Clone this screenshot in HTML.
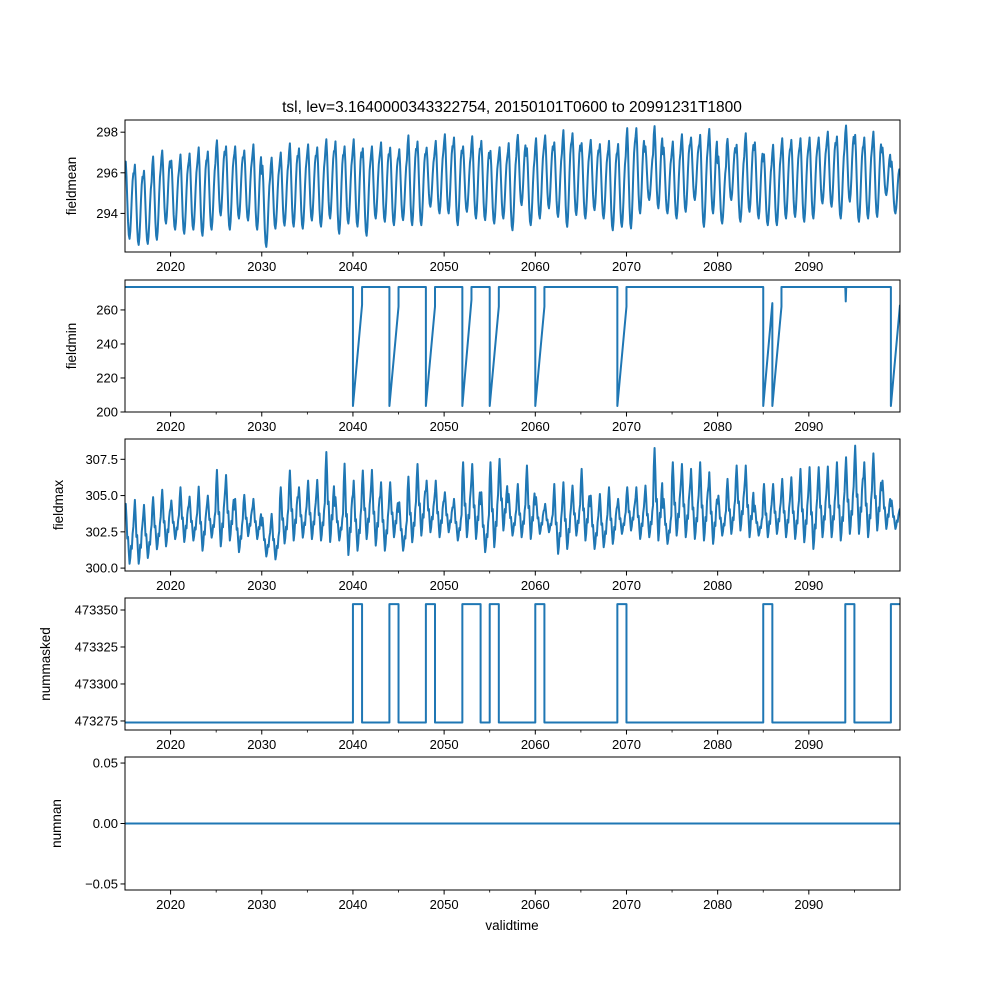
<!DOCTYPE html>
<html><head><meta charset="utf-8"><style>
body{margin:0;background:#fff;}
svg{display:block;font-family:"Liberation Sans","DejaVu Sans",sans-serif;}
</style></head><body>
<svg id="fig" width="1000" height="1000" viewBox="0 0 1000 1000">
<rect width="1000" height="1000" fill="#fff"/>
<text x="512" y="112" font-size="15.5" text-anchor="middle">tsl, lev=3.1640000343322754, 20150101T0600 to 20991231T1800</text>
<text x="512" y="930" font-size="13.5" text-anchor="middle">validtime</text>
</svg>
<script>
const years = [];
for (let y = 2015; y <= 2099; y++) years.push(y);
const meanSeason = [0.9,1.0,0.8,0.5,0.22,0.05,0.0,0.1,0.3,0.55,0.75,0.85];
const meanPeaks = [296.55,296.4,296.1,296.8,297.1,296.6,296.9,296.95,297.25,297.05,297.6,297.3,297.3,297.1,297.4,296.35,296.75,297.0,297.45,297.2,297.4,297.25,297.65,297.55,297.3,297.65,297.2,
297.3,297.5,297.24,297.16,297.84,297.54,297.24,297.57,297.9,297.74,297.3,297.8,297.57,297.08,297.26,297.46,297.87,297.21,297.7,297.84,297.5,298.1,297.95,297.46,297.62,297.41,297.57,297.42,298.2,
298.2,297.3,298.3,297.24,297.54,297.9,297.74,297.87,298.16,296.8,297.67,297.38,297.95,297.5,296.91,297.38,297.7,297.62,297.7,297.74,297.74,298.03,297.79,298.33,297.87,297.74,298.03,297.24,296.55];
const meanTroughs = [292.75,292.45,292.5,292.7,293.5,293.2,293.0,293.2,292.9,293.2,293.9,293.2,293.75,293.65,293.2,292.35,293.25,293.4,293.35,293.25,293.65,293.35,293.75,293.0,293.5,293.35,292.9,
293.75,293.59,293.42,293.67,293.42,293.42,294.33,294.0,294.0,293.42,294.08,293.75,293.67,293.5,293.75,293.17,294.41,293.42,293.75,294.25,293.83,293.34,293.92,293.75,294.16,293.75,293.17,293.34,293.26,
294.0,294.66,294.25,294.0,293.75,294.08,294.66,293.34,294.0,293.5,294.66,293.59,294.08,293.75,293.42,293.42,293.75,293.83,293.59,293.75,294.49,294.33,293.75,294.58,293.59,293.75,293.83,294.9,294.0];
const maxSeason = [0.8,1.0,0.75,0.42,0.45,0.2,0.0,0.1,0.3,0.25,0.5,0.62];
const maxPeaks = [304.43,304.7,304.36,304.89,305.4,304.66,305.57,304.93,305.62,305.0,306.77,306.42,304.77,305.05,304.77,303.47,303.74,305.57,306.73,305.57,306.03,306.08,308.0,304.89,307.2,306.03,306.73,
306.77,305.92,305.92,304.54,306.31,307.18,306.03,306.03,305.23,304.77,307.3,307.18,305.23,307.3,307.53,305.11,305.8,307.07,304.89,304.43,305.8,305.92,305.69,306.84,305.0,305.11,305.57,304.77,305.57,
305.57,305.69,308.28,304.77,307.3,307.18,306.84,307.3,306.61,305.0,306.15,307.07,307.07,304.31,305.8,305.8,306.15,306.26,306.84,306.96,306.96,307.0,307.3,307.64,308.44,307.3,307.91,306.03,304.66];
const maxTroughs = [300.3,300.3,300.7,301.3,301.5,302.0,301.8,301.9,301.2,302.1,301.5,301.9,301.1,302.2,302.0,300.8,300.6,301.7,301.9,302.1,302.0,301.9,301.8,301.9,300.9,301.2,302.0,
301.55,301.2,302.13,301.2,301.78,302.24,302.47,302.13,302.47,301.9,302.13,302.01,301.1,301.44,302.59,302.24,302.13,302.01,302.36,302.47,300.98,301.32,302.24,301.9,301.32,301.44,301.67,302.36,302.59,
302.01,302.13,301.9,301.67,302.24,302.13,302.01,301.9,301.67,302.24,302.36,302.59,302.13,302.24,302.13,302.36,302.13,302.01,301.78,301.32,302.13,302.13,301.9,302.36,302.36,302.13,302.59,302.7,302.7];
const minBase = 273.5;
const minLow = 203.5;
const minDropYears = [2040,2044,2048,2052,2055,2060,2069,2085,2086,2099];
const minRecovered = [263,262,262,266,262,262,262,264,262,263];
const minDipYears = [2094];
const minDipValues = [265];
const maskHigh = 473354;
const maskLow = 473274;
const maskStarts = [2040,2044,2048,2052,2055,2060,2069,2085,2094,2099];
const maskEnds = [2041,2045,2049,2054,2056,2061,2070,2086,2095,2100];
const nanValues = [0,0];
const xTickLabels = ["2020","2030","2040","2050","2060","2070","2080","2090"];
const meanTicks = [294,296,298];
const minTicks = [200,220,240,260];
const maxTicks = [300,302.5,305,307.5];
const maskTicks = [473275,473300,473325,473350];
const nanTicks = [-0.05,0,0.05];

const NS = "http://www.w3.org/2000/svg";
const svg = document.getElementById("fig");
const X0 = 125, X1 = 900, T0 = 2015, T1 = 2100;
function xs(t){ return X0 + (t - T0) / (T1 - T0) * (X1 - X0); }
function mk(tag, attrs, parent){
  const e = document.createElementNS(NS, tag);
  for (const k in attrs) e.setAttribute(k, attrs[k]);
  (parent || svg).appendChild(e);
  return e;
}
const panels = [
  {name:"fieldmean", top:120, bot:252, d0:292.1, d1:298.6, ticks:meanTicks, fmt:v=>String(v), lx:76},
  {name:"fieldmin", top:280, bot:412, d0:200, d1:277.6, ticks:minTicks, fmt:v=>String(v), lx:76},
  {name:"fieldmax", top:439, bot:571, d0:299.8, d1:308.9, ticks:maxTicks, fmt:v=>v.toFixed(1), lx:63},
  {name:"nummasked", top:598, bot:730, d0:473268.9, d1:473358.1, ticks:maskTicks, fmt:v=>String(v), lx:50},
  {name:"numnan", top:757, bot:890, d0:-0.055, d1:0.055, ticks:nanTicks, fmt:v=>v.toFixed(2).replace("-","\u2212"), lx:61}
];
function seasonal(peaks, troughs, shape){
  const pts = [];
  for (let i = 0; i < years.length; i++)
    for (let m = 0; m < 12; m++)
      pts.push([years[i] + m/12, troughs[i] + (peaks[i]-troughs[i]) * shape[m]]);
  pts.push([T1, troughs[years.length-1] + (peaks[years.length-1]-troughs[years.length-1]) * shape[0] * 0.9]);
  return pts;
}
function minSeries(){
  const pts = [[T0, minBase]];
  for (let i = 0; i < minDropYears.length; i++){
    const e = minDropYears[i];
    if (i === 0 || minDropYears[i-1] !== e - 1) pts.push([e, minBase]);
    pts.push([e, minLow]);
    pts.push([Math.min(e + 1, T1), minRecovered[i]]);
    if (minDropYears[i+1] !== e + 1 && e + 1 < T1) pts.push([e + 1, minBase]);
    for (let j = 0; j < minDipYears.length; j++){
      const d = minDipYears[j];
      if (d > e && (i + 1 >= minDropYears.length || d < minDropYears[i+1])){
        pts.push([d, minBase]); pts.push([d + 0.05, minDipValues[j]]); pts.push([d + 0.1, minBase]);
      }
    }
  }
  return pts;
}
function maskSeries(){
  const pts = [[T0, maskLow]];
  for (let i = 0; i < maskStarts.length; i++){
    pts.push([maskStarts[i], maskLow]); pts.push([maskStarts[i], maskHigh]);
    pts.push([maskEnds[i], maskHigh]);
    if (maskEnds[i] < T1){ pts.push([maskEnds[i], maskLow]); }
  }
  if (maskEnds[maskEnds.length-1] < T1) pts.push([T1, maskLow]);
  return pts;
}
const series = [
  seasonal(meanPeaks, meanTroughs, meanSeason),
  minSeries(),
  seasonal(maxPeaks, maxTroughs, maxSeason),
  maskSeries(),
  [[T0, nanValues[0]], [T1, nanValues[1]]]
];
panels.forEach((p, pi) => {
  const g = mk("g", {});
  
  
  const ys = v => p.bot - (v - p.d0) / (p.d1 - p.d0) * (p.bot - p.top);
  const clipId = "clip" + pi;
  const cp = mk("clipPath", {id: clipId}, g);
  mk("rect", {x: X0, y: p.top, width: X1 - X0, height: p.bot - p.top}, cp);
  const d = series[pi].map((q, k) => (k ? "L" : "M") + xs(q[0]).toFixed(2) + "," + ys(q[1]).toFixed(2)).join("");
  const line = mk("path", {d: d, fill: "none", stroke: "#1f77b4", "stroke-width": 2, "stroke-linejoin": "round", "clip-path": "url(#" + clipId + ")"}, g);
  
  
  const frame = mk("rect", {x: X0, y: p.top, width: X1 - X0, height: p.bot - p.top, fill: "none", stroke: "#000", "stroke-width": 1}, g);
  
  
  xTickLabels.forEach(lbl => {
    const x = xs(+lbl);
    mk("line", {x1: x, x2: x, y1: p.bot, y2: p.bot + 4.5, stroke: "#000", "stroke-width": 1}, g);
    const t = mk("text", {x: x, y: p.bot + 19, "font-size": 13, "text-anchor": "middle"}, g);
    t.textContent = lbl;
    
    
  });
  for (let yr = 2025; yr <= 2095; yr += 10){
    const x = xs(yr);
    mk("line", {x1: x, x2: x, y1: p.bot, y2: p.bot + 2.5, stroke: "#000", "stroke-width": 0.8}, g);
  }
  p.ticks.forEach(v => {
    const y = ys(v);
    mk("line", {x1: X0, x2: X0 - 4.5, y1: y, y2: y, stroke: "#000", "stroke-width": 1}, g);
    const t = mk("text", {x: X0 - 7, y: y + 4.5, "font-size": 13, "text-anchor": "end"}, g);
    t.textContent = p.fmt(v);
    
    
  });
  const cy = (p.top + p.bot) / 2;
  const yl = mk("text", {x: p.lx, y: cy, "font-size": 13.5, "text-anchor": "middle", transform: "rotate(-90 " + p.lx + " " + cy + ")"}, g);
  yl.textContent = p.name;
  
  
});
</script>
</body></html>
